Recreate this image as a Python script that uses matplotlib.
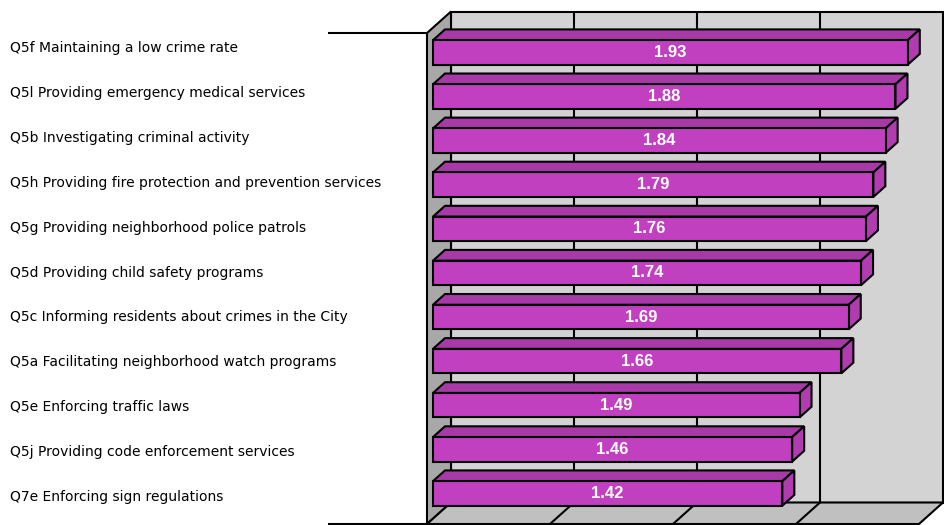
import matplotlib
matplotlib.use("Agg")
import matplotlib.pyplot as plt
from matplotlib.patches import Polygon
from matplotlib.transforms import ScaledTranslation

# Survey items (top to bottom) and their mean ratings
labels = [
    "Q5f Maintaining a low crime rate",
    "Q5l Providing emergency medical services",
    "Q5b Investigating criminal activity",
    "Q5h Providing fire protection and prevention services",
    "Q5g Providing neighborhood police patrols",
    "Q5d Providing child safety programs",
    "Q5c Informing residents about crimes in the City",
    "Q5a Facilitating neighborhood watch programs",
    "Q5e Enforcing traffic laws",
    "Q5j Providing code enforcement services",
    "Q7e Enforcing sign regulations",
]
values = [1.93, 1.88, 1.84, 1.79, 1.76, 1.74, 1.69, 1.66, 1.49, 1.46, 1.42]
x_ticks = [0.5, 1.0, 1.5]

W, H, DPI = 944, 525, 100
fig = plt.figure(figsize=(W / DPI, H / DPI), dpi=DPI)
fig.patch.set_facecolor("white")

# front plane of the 3-D box in pixels
left_px, right_px, top_px, bot_px = 427, 919, 33, 524
ax = fig.add_axes([left_px / W, (H - bot_px) / H,
                   (right_px - left_px) / W, (bot_px - top_px) / H])
ax.set_axis_off()

XMAX = 2.0
slot_px = 44.1
first_px = 57.8
ymin = (top_px - first_px) / slot_px
ymax = (bot_px - first_px) / slot_px
ax.set_xlim(0, XMAX)
ax.set_ylim(ymax, ymin)

DX, DY = 24.0, 21.5   # full depth offset in pixels


def depth(f):
    return ax.transData + ScaledTranslation(DX * f / DPI, DY * f / DPI,
                                            fig.dpi_scale_trans)


def poly(pts, color, z, tr=None):
    p = Polygon(pts, closed=True, facecolor=color, edgecolor="black",
                linewidth=1.5, joinstyle="miter", zorder=z,
                transform=tr if tr is not None else ax.transData,
                clip_on=False)
    ax.add_patch(p)


back = depth(1.0)
front = ax.transData


def disp(tr, x, y):
    return tr.transform((x, y))


inv = ax.transData.inverted()

# back wall
poly([(0, ymin), (XMAX, ymin), (XMAX, ymax), (0, ymax)], "#D3D3D3", 1, back)

# left side wall
lw_pts = [disp(front, 0, ymin), disp(back, 0, ymin),
          disp(back, 0, ymax), disp(front, 0, ymax)]
poly([inv.transform(p) for p in lw_pts], "#A8A8A8", 2)

# floor
fl_pts = [disp(front, 0, ymax), disp(back, 0, ymax),
          disp(back, XMAX, ymax), disp(front, XMAX, ymax)]
poly([inv.transform(p) for p in fl_pts], "#C0C0C0", 2)

# gridlines on back wall and floor
for xt in x_ticks:
    ax.plot([xt, xt], [ymin, ymax], color="black", lw=1.5, transform=back,
            zorder=3, clip_on=False, solid_capstyle="butt")
    a = inv.transform(disp(back, xt, ymax))
    b = inv.transform(disp(front, xt, ymax))
    ax.plot([a[0], b[0]], [a[1], b[1]], color="black", lw=1.5, zorder=3,
            clip_on=False, solid_capstyle="butt")

# short lines extending the box to the left
for yy in (ymin, ymax):
    ax.plot([-(left_px - 328) / (right_px - left_px) * XMAX, 0], [yy, yy],
            color="black", lw=1.5, zorder=3, clip_on=False,
            solid_capstyle="butt")

# bars
f0, f1 = 0.25, 0.75
t0, t1 = depth(f0), depth(f1)
half = 0.278
for i, v in enumerate(values):
    z = 10 + i
    yt, yb = i - half, i + half
    # top face
    pts = [disp(t0, 0, yt), disp(t1, 0, yt), disp(t1, v, yt), disp(t0, v, yt)]
    poly([inv.transform(p) for p in pts], "#A83AA8", z)
    # right side face
    pts = [disp(t0, v, yt), disp(t1, v, yt), disp(t1, v, yb), disp(t0, v, yb)]
    poly([inv.transform(p) for p in pts], "#B03CB0", z)
    # front face
    poly([(0, yt), (v, yt), (v, yb), (0, yb)], "#C040C0", z, t0)
    ax.text(v / 2, i, f"{v:.2f}", transform=t0, ha="center", va="center",
            color="white", fontsize=12, fontweight="bold",
            family="Liberation Sans", zorder=30)

# category labels
for i, lab in enumerate(labels):
    fig.text(10 / W, 1 - (48 + 44.9 * i) / H, lab, ha="left", va="center",
             fontsize=10, family="DejaVu Sans", color="black")

fig.savefig("out.png", dpi=DPI)
